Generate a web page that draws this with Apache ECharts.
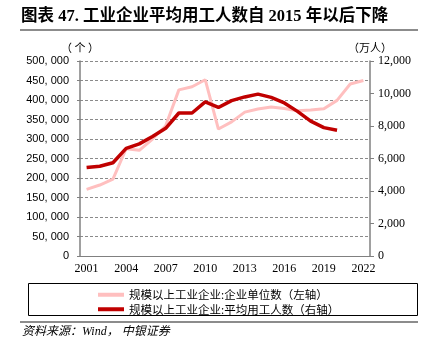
<!DOCTYPE html>
<html>
<head>
<meta charset="utf-8">
<script src="https://cdn.jsdelivr.net/npm/echarts@6/dist/echarts.min.js"></script>
<style>
  html, body { margin: 0; padding: 0; background: #fff; }
  #chart { width: 427px; height: 350px; }
</style>
</head>
<body>
<div id="chart"></div>
<script>
// 年份
var years = ["2001", "2002", "2003", "2004", "2005", "2006", "2007", "2008", "2009", "2010", "2011",
  "2012", "2013", "2014", "2015", "2016", "2017", "2018", "2019", "2020", "2021", "2022"];
// 规模以上工业企业:企业单位数（个，左轴）
var firmCount = [171000, 182000, 197000, 275000, 271000, 300000, 334000, 426000, 434000, 452000, 325600,
  344000, 369000, 377000, 382000, 378000, 372500, 374500, 377500, 399000, 441000, 450000];
// 规模以上工业企业:平均用工人数（万人，右轴）
var avgWorkers = [5440, 5520, 5740, 6625, 6900, 7360, 7860, 8800, 8800, 9480, 9140,
  9560, 9790, 9960, 9760, 9420, 8900, 8300, 7900, 7740];

var seriesNames = ["规模以上工业企业:企业单位数（左轴）", "规模以上工业企业:平均用工人数（右轴）"];

var cjk = "Noto Sans CJK SC";
var serif = "'Liberation Serif', 'Noto Sans CJK SC'";

var myChart = echarts.init(document.getElementById("chart"));

var option = {
  animation: false,
  backgroundColor: "#fff",
  grid: { left: 80, right: 57, top: 61, bottom: 94 },
  graphic: [
    {
      type: "text", left: 21, top: 8,
      style: { text: "图表 47. 工业企业平均用工人数自 2015 年以后下降", font: "bold 16.5px " + serif, fill: "#000" }
    },
    { type: "rect", shape: { x: 20, y: 29, width: 398, height: 2 }, style: { fill: "#8c8c8c" } },
    // 图例外框
    { type: "rect", shape: { x: 28.5, y: 283.5, width: 389, height: 32 }, style: { fill: "none", stroke: "#000", lineWidth: 1 } },
    { type: "rect", shape: { x: 20, y: 321, width: 398, height: 2 }, style: { fill: "#8c8c8c" } },
    {
      type: "text", left: 22, top: 326,
      style: { text: "资料来源：Wind， 中银证券", font: "italic 12px " + serif, fill: "#000" }
    }
  ],
  legend: {
    orient: "vertical",
    left: 93,
    top: 284,
    itemGap: 3,
    itemWidth: 26,
    itemHeight: 4,
    icon: "rect",
    textStyle: { fontFamily: cjk, fontSize: 11.5, color: "#000" },
    data: seriesNames
  },
  xAxis: {
    type: "category",
    data: years,
    boundaryGap: true,
    axisLine: { lineStyle: { color: "#808080", width: 1 } },
    axisTick: { interval: 2, length: 4, lineStyle: { color: "#808080" } },
    axisLabel: { interval: 2, color: "#000", fontFamily: serif, fontSize: 12, margin: 7 }
  },
  yAxis: [
    {
      type: "value",
      name: "（ 个 ）",
      nameGap: 8,
      nameTextStyle: { fontFamily: cjk, fontSize: 11, color: "#000", align: "center" },
      min: 0, max: 500000, interval: 50000,
      axisLine: { show: true, lineStyle: { color: "#808080", width: 1.5 } },
      axisTick: { show: true, length: 3, lineStyle: { color: "#808080" } },
      axisLabel: {
        color: "#000", fontFamily: "'Liberation Sans'", fontSize: 11, margin: 11,
        formatter: function (v) { return v === 0 ? "0" : echarts.format.addCommas(v).replace(",", ", "); }
      },
      splitLine: { show: true, lineStyle: { color: "#8a8a8a", type: [3, 2], width: 1 } }
    },
    {
      type: "value",
      name: "（万人）",
      nameGap: 8,
      nameTextStyle: { fontFamily: cjk, fontSize: 11, color: "#000", align: "center" },
      min: 0, max: 12000, interval: 2000,
      position: "right",
      axisLine: { show: true, lineStyle: { color: "#808080", width: 1.5 } },
      axisTick: { show: true, length: 4, lineStyle: { color: "#808080" } },
      axisLabel: {
        color: "#000", fontFamily: serif, fontSize: 12, margin: 8,
        formatter: function (v) { return echarts.format.addCommas(v); }
      },
      splitLine: { show: false }
    }
  ],
  series: [
    {
      name: seriesNames[0],
      type: "line",
      yAxisIndex: 0,
      data: firmCount,
      symbol: "none",
      lineStyle: { color: "#ffbfbf", width: 3 },
      itemStyle: { color: "#ffbfbf" },
      z: 2
    },
    {
      name: seriesNames[1],
      type: "line",
      yAxisIndex: 1,
      data: avgWorkers,
      symbol: "none",
      lineStyle: { color: "#c00000", width: 3.5 },
      itemStyle: { color: "#c00000" },
      z: 3
    }
  ]
};

myChart.setOption(option);
</script>
</body>
</html>
